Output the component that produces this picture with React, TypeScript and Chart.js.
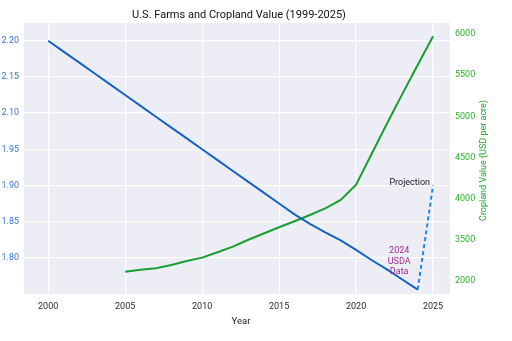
import { useEffect, useRef } from 'react';
import { Chart, registerables } from 'chart.js';

Chart.register(...registerables);

// Number of U.S. farms (millions), yearly
const farmYears = [
  2000, 2001, 2002, 2003, 2004, 2005, 2006, 2007, 2008, 2009, 2010, 2011, 2012,
  2013, 2014, 2015, 2016, 2017, 2018, 2019, 2020, 2021, 2022, 2023, 2024,
];
const farmCounts = [
  2.2, 2.185, 2.17, 2.155, 2.14, 2.125, 2.11, 2.095, 2.08, 2.065, 2.05, 2.035,
  2.02, 2.005, 1.99, 1.975, 1.96, 1.947, 1.935, 1.924, 1.911, 1.897, 1.884,
  1.87, 1.856,
];

// Projected farm count
const projectionYears = [2024, 2025];
const projectionCounts = [1.856, 2.0];

// Cropland value (USD per acre)
const croplandYears = [
  2005, 2006, 2007, 2008, 2009, 2010, 2011, 2012, 2013, 2014, 2015, 2016, 2017,
  2018, 2019, 2020, 2021, 2022, 2023, 2024, 2025,
];
const croplandValues = [
  3111, 3135, 3153, 3192, 3241, 3282, 3347, 3416, 3500, 3575, 3651, 3725, 3801,
  3882, 3983, 4170, 4540, 4910, 5270, 5625, 5975,
];

// Axis ticks
const yearTicks = [2000, 2005, 2010, 2015, 2020, 2025];
const farmTickValues = [2.2, 2.15, 2.1, 2.05, 2.0, 1.95, 1.9];
const farmTickLabels = ['2.20', '2.15', '2.10', '1.95', '1.90', '1.85', '1.80'];
const valueTickValues = [6000, 5500, 5000, 4500, 4000, 3500, 3000];
const valueTickLabels = ['6000', '5500', '5000', '4500', '4000', '3500', '2000'];

const FONT = 'Roboto, "Noto Sans", sans-serif';

const labelFor = (values: number[], labels: string[], v: number) => {
  let best = 0;
  values.forEach((t, i) => {
    if (Math.abs(t - v) < Math.abs(values[best] - v)) best = i;
  });
  return labels[best];
};

const backgroundPlugin = {
  id: 'plotBackground',
  beforeDraw(chart: any) {
    const { ctx, chartArea } = chart;
    ctx.save();
    ctx.fillStyle = '#edeef5';
    ctx.fillRect(chartArea.left, chartArea.top, chartArea.right - chartArea.left, chartArea.bottom - chartArea.top);
    ctx.restore();
  },
};

const textPlugin = {
  id: 'chartText',
  afterDraw(chart: any) {
    const { ctx, chartArea } = chart;
    const xs = chart.scales.x;
    const ys = chart.scales.y;
    ctx.save();

    // Title
    ctx.fillStyle = '#111111';
    ctx.font = `11px ${FONT}`;
    ctx.textAlign = 'center';
    ctx.textBaseline = 'middle';
    ctx.fillText('U.S. Farms and Cropland Value (1999-2025)', (chartArea.left + chartArea.right) / 2 + 2, 15);

    // X axis title
    ctx.fillStyle = '#222222';
    ctx.font = `9.5px ${FONT}`;
    ctx.fillText('Year', (chartArea.left + chartArea.right) / 2 + 4, 322);

    // Right axis title
    ctx.save();
    ctx.translate(484, (chartArea.top + chartArea.bottom) / 2 + 2);
    ctx.rotate(-Math.PI / 2);
    ctx.fillStyle = '#22a82a';
    ctx.font = `9px ${FONT}`;
    ctx.fillText('Cropland Value (USD per acre)', 0, 0);
    ctx.restore();

    // Projection note
    const px = xs.getPixelForValue(projectionYears[1]);
    const py = ys.getPixelForValue(projectionCounts[1]);
    ctx.fillStyle = '#222222';
    ctx.font = `9px ${FONT}`;
    ctx.textAlign = 'right';
    ctx.fillText('Projection', px - 3, py - 3);

    // USDA note
    const ux = xs.getPixelForValue(2022.8);
    const uy = ys.getPixelForValue(1.895);
    ctx.fillStyle = '#9c2f8e';
    ctx.textAlign = 'center';
    ['2024', 'USDA', 'Data'].forEach((line, i) => {
      ctx.fillText(line, ux, uy + (i - 1) * 10.5);
    });

    ctx.restore();
  },
};

export default function App() {
  const canvasRef = useRef<HTMLCanvasElement | null>(null);

  useEffect(() => {
    document.body.style.margin = '0';
    const canvas = canvasRef.current;
    if (!canvas) return;

    const chart = new Chart(canvas, {
      type: 'line',
      data: {
        datasets: [
          {
            label: 'Farms',
            data: farmYears.map((x, i) => ({ x, y: farmCounts[i] })),
            borderColor: '#1562bf',
            borderWidth: 2,
            pointRadius: 0,
            tension: 0,
            yAxisID: 'y',
          },
          {
            label: 'Projection',
            data: projectionYears.map((x, i) => ({ x, y: projectionCounts[i] })),
            borderColor: '#1f88e0',
            borderWidth: 2,
            borderDash: [4, 3],
            pointRadius: 0,
            tension: 0,
            yAxisID: 'y',
          },
          {
            label: 'Cropland Value',
            data: croplandYears.map((x, i) => ({ x, y: croplandValues[i] })),
            borderColor: '#1a9e32',
            borderWidth: 2,
            pointRadius: 0,
            tension: 0,
            yAxisID: 'y2',
          },
        ],
      },
      options: {
        responsive: false,
        animation: false,
        layout: { padding: { top: 23, left: 0, right: 0, bottom: 0 } },
        plugins: {
          legend: { display: false },
          title: { display: false },
          tooltip: { enabled: false },
        },
        scales: {
          x: {
            type: 'linear',
            min: 1998.43,
            max: 2026.1,
            afterBuildTicks: (s: any) => {
              s.ticks = yearTicks.map((value) => ({ value }));
            },
            afterFit: (s: any) => {
              s.height = 47;
            },
            grid: { color: '#ffffff', lineWidth: 1.2, drawTicks: false },
            border: { display: false },
            ticks: {
              color: '#2a2a2a',
              font: { family: FONT, size: 9 },
              padding: 7,
              maxRotation: 0,
              autoSkip: false,
              callback: (v: any) => String(v),
            },
          },
          y: {
            type: 'linear',
            position: 'left',
            min: 1.85,
            max: 2.2245,
            afterBuildTicks: (s: any) => {
              s.ticks = farmTickValues.map((value) => ({ value }));
            },
            afterFit: (s: any) => {
              s.width = 24;
            },
            grid: { color: '#ffffff', lineWidth: 1.2, drawTicks: false },
            border: { display: false },
            ticks: {
              color: '#3877d6',
              font: { family: FONT, size: 9 },
              padding: 5,
              autoSkip: false,
              callback: (v: any) => labelFor(farmTickValues, farmTickLabels, Number(v)),
            },
          },
          y2: {
            type: 'linear',
            position: 'right',
            min: 2840,
            max: 6135,
            afterBuildTicks: (s: any) => {
              s.ticks = valueTickValues.map((value) => ({ value }));
            },
            afterFit: (s: any) => {
              s.width = 62;
            },
            grid: { display: false, drawTicks: false },
            border: { display: false },
            ticks: {
              color: '#2bb52b',
              font: { family: FONT, size: 9 },
              padding: 5,
              autoSkip: false,
              callback: (v: any) => labelFor(valueTickValues, valueTickLabels, Number(v)),
            },
          },
        },
      },
      plugins: [backgroundPlugin, textPlugin],
    } as any);

    return () => chart.destroy();
  }, []);

  return (
    <div style={{ position: 'absolute', left: 0, top: 0, width: 512, height: 341, background: '#ffffff' }}>
      <canvas ref={canvasRef} width={512} height={341} style={{ display: 'block', width: 512, height: 341 }} />
    </div>
  );
}
